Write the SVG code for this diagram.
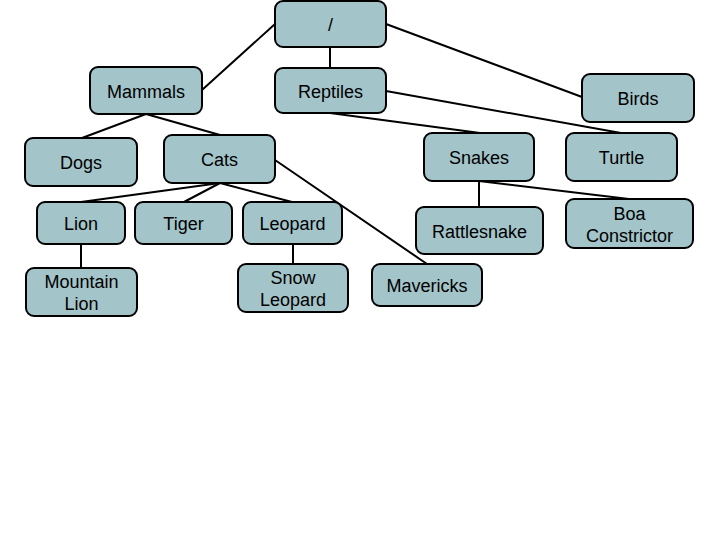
<svg xmlns="http://www.w3.org/2000/svg" width="720" height="540" viewBox="0 0 720 540">
<style>
.n rect{fill:#A3C4C9;stroke:#000;stroke-width:2}
.n text{font-family:"Liberation Sans",Arial,sans-serif;font-size:18px;fill:#000;text-anchor:middle}
#edges line{stroke:#000;stroke-width:2}
</style>
<rect width="720" height="540" fill="#fff"/>
<g id="edges">
<line x1="275" y1="24" x2="202" y2="90"/>
<line x1="330" y1="47" x2="330" y2="68"/>
<line x1="386" y1="24" x2="582" y2="97"/>
<line x1="386" y1="91" x2="621" y2="133"/>
<line x1="330" y1="113" x2="480" y2="133"/>
<line x1="146" y1="114" x2="82" y2="138"/>
<line x1="146" y1="114" x2="220" y2="135"/>
<line x1="220" y1="183" x2="81" y2="202"/>
<line x1="220" y1="183" x2="184" y2="202"/>
<line x1="220" y1="183" x2="292" y2="202"/>
<line x1="275" y1="160" x2="427" y2="264"/>
<line x1="81" y1="244" x2="81" y2="268"/>
<line x1="293" y1="244" x2="293" y2="264"/>
<line x1="479" y1="181" x2="479" y2="207"/>
<line x1="479" y1="181" x2="629" y2="199"/>
</g>
<g id="root" class="n"><rect x="275" y="1" width="111" height="46" rx="8"/><text x="330.5" y="31">/</text></g>
<g id="mammals" class="n"><rect x="90" y="67" width="112" height="47" rx="8"/><text x="146" y="98">Mammals</text></g>
<g id="reptiles" class="n"><rect x="275" y="68" width="111" height="45" rx="8"/><text x="330.5" y="98">Reptiles</text></g>
<g id="birds" class="n"><rect x="582" y="74" width="112" height="48" rx="8"/><text x="638" y="105">Birds</text></g>
<g id="dogs" class="n"><rect x="25" y="138" width="112" height="48" rx="8"/><text x="81" y="169">Dogs</text></g>
<g id="cats" class="n"><rect x="164" y="135" width="111" height="48" rx="8"/><text x="219.5" y="166">Cats</text></g>
<g id="snakes" class="n"><rect x="424" y="133" width="110" height="48" rx="8"/><text x="479" y="164">Snakes</text></g>
<g id="turtle" class="n"><rect x="566" y="133" width="111" height="48" rx="8"/><text x="621.5" y="164">Turtle</text></g>
<g id="lion" class="n"><rect x="37" y="202" width="88" height="42" rx="8"/><text x="81" y="230">Lion</text></g>
<g id="tiger" class="n"><rect x="135" y="202" width="97" height="42" rx="8"/><text x="183.5" y="230">Tiger</text></g>
<g id="leopard" class="n"><rect x="243" y="202" width="99" height="42" rx="8"/><text x="292.5" y="230">Leopard</text></g>
<g id="rattlesnake" class="n"><rect x="416" y="207" width="127" height="47" rx="8"/><text x="479.5" y="238">Rattlesnake</text></g>
<g id="boa" class="n"><rect x="566" y="199" width="127" height="49" rx="8"/><text x="629.5" y="220">Boa</text><text x="629.5" y="242">Constrictor</text></g>
<g id="mountainlion" class="n"><rect x="26" y="268" width="111" height="48" rx="8"/><text x="81.5" y="288">Mountain</text><text x="81.5" y="310">Lion</text></g>
<g id="snowleopard" class="n"><rect x="238" y="264" width="110" height="48" rx="8"/><text x="293" y="284">Snow</text><text x="293" y="306">Leopard</text></g>
<g id="mavericks" class="n"><rect x="372" y="264" width="110" height="42" rx="8"/><text x="427" y="292">Mavericks</text></g>
</svg>
